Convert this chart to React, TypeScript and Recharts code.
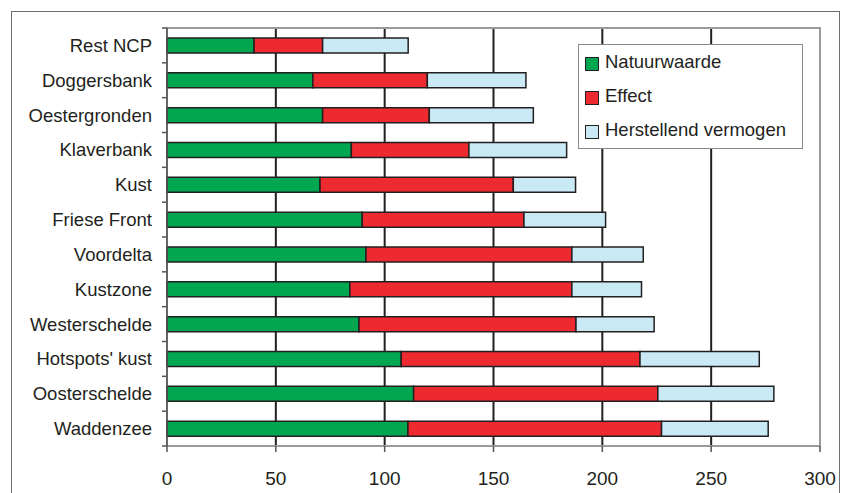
import { BarChart, Bar, XAxis, YAxis, CartesianGrid, Legend, ReferenceArea } from 'recharts';

const gebieden = [
  'Rest NCP',
  'Doggersbank',
  'Oestergronden',
  'Klaverbank',
  'Kust',
  'Friese Front',
  'Voordelta',
  'Kustzone',
  'Westerschelde',
  "Hotspots' kust",
  'Oosterschelde',
  'Waddenzee',
];
const natuurwaarde = [40, 67, 71.5, 84.7, 70.3, 89.7, 91.4, 84, 88.2, 107.6, 113.3, 110.7];
const effect = [31.5, 52.6, 49, 54, 88.8, 74.3, 94.6, 102, 99.7, 109.7, 112.2, 116.5];
const herstellend = [39.3, 45.3, 47.8, 44.9, 28.6, 37.5, 32.8, 32, 35.9, 54.8, 53.3, 49];
const xTicks = [0, 50, 100, 150, 200, 250, 300];

const series = [
  { key: 'natuurwaarde', name: 'Natuurwaarde', color: '#00a650' },
  { key: 'effect', name: 'Effect', color: '#ed2a30' },
  { key: 'herstellend', name: 'Herstellend vermogen', color: '#c9e9f5' },
];

const data = gebieden.map((g, i) => ({
  gebied: g,
  natuurwaarde: natuurwaarde[i],
  effect: effect[i],
  herstellend: herstellend[i],
}));

const FONT = '"Liberation Sans", Arial, sans-serif';
const INK = '#231f20';
const PLOT_TOP = 28;
const PLOT_BOTTOM = 446;
const BAND = (PLOT_BOTTOM - PLOT_TOP) / gebieden.length;

// category labels plus the small ticks that sit on the band edges
function CategoryTick(props: any) {
  const { y, payload, index } = props;
  const ax = 167;
  return (
    <g>
      <line x1={ax - 5} x2={ax} y1={y - BAND / 2} y2={y - BAND / 2} stroke="#555" strokeWidth={1.5} />
      {index === gebieden.length - 1 && (
        <line x1={ax - 5} x2={ax} y1={y + BAND / 2} y2={y + BAND / 2} stroke="#555" strokeWidth={1.5} />
      )}
      <text x={ax - 15} y={y} dy="0.35em" textAnchor="end" fontSize={18.5} fontFamily={FONT} fill={INK}>
        {payload.value}
      </text>
    </g>
  );
}

function LegendBox() {
  return (
    <div
      style={{
        width: 225,
        height: 105,
        border: '1px solid #8a8a8a',
        background: '#fff',
        boxSizing: 'border-box',
        position: 'relative',
        fontFamily: FONT,
        fontSize: 18.5,
        color: INK,
        textAlign: 'left',
      }}
    >
      {series.map((s, i) => (
        <div key={s.key} style={{ position: 'absolute', left: 6, top: 5 + i * 34, height: 24, display: 'flex', alignItems: 'center' }}>
          <span
            style={{
              display: 'inline-block',
              width: 12,
              height: 12,
              background: s.color,
              border: `1.5px solid ${INK}`,
              marginRight: 6,
              marginTop: 4,
            }}
          />
          <span>{s.name}</span>
        </div>
      ))}
    </div>
  );
}

export default function App() {
  return (
    <div style={{ position: 'relative', width: 841, height: 493, overflow: 'hidden', background: '#fff' }}>
      <style>{`body{margin:0}`}</style>
      <div
        style={{
          position: 'absolute',
          left: 11,
          top: 11,
          width: 829,
          height: 520,
          border: '1.5px solid #6d6e71',
          boxSizing: 'border-box',
        }}
      />
      <div style={{ position: 'absolute', left: 0, top: 0 }}>
        <BarChart
          width={841}
          height={493}
          data={data}
          layout="vertical"
          margin={{ top: PLOT_TOP, right: 21, bottom: 0, left: 0 }}
          barSize={15}
        >
          <CartesianGrid horizontal={false} verticalValues={[50, 100, 150, 200, 250]} stroke={INK} strokeWidth={2} />
          <ReferenceArea x1={0} x2={300} fill="none" stroke="#9a9a9a" strokeWidth={2} ifOverflow="visible" />
          <XAxis
            type="number"
            domain={[0, 300]}
            ticks={xTicks}
            interval={0}
            height={47}
            axisLine={false}
            tickLine={{ stroke: '#555', strokeWidth: 1.5 }}
            tickSize={6}
            tickMargin={20}
            tick={{ fontSize: 19, fontFamily: FONT, fill: INK }}
          />
          <YAxis
            type="category"
            dataKey="gebied"
            width={167}
            axisLine={{ stroke: '#555', strokeWidth: 1.5 }}
            tickLine={false}
            tick={<CategoryTick />}
            interval={0}
          />
          <Legend
            content={<LegendBox />}
            layout="vertical"
            verticalAlign="middle"
            align="center"
            wrapperStyle={{ position: 'absolute', left: 578, top: 44, width: 225, height: 105 }}
          />
          {series.map((s) => (
            <Bar
              key={s.key}
              dataKey={s.key}
              name={s.name}
              stackId="a"
              fill={s.color}
              stroke={INK}
              strokeWidth={1.5}
              isAnimationActive={false}
            />
          ))}
        </BarChart>
      </div>
    </div>
  );
}
